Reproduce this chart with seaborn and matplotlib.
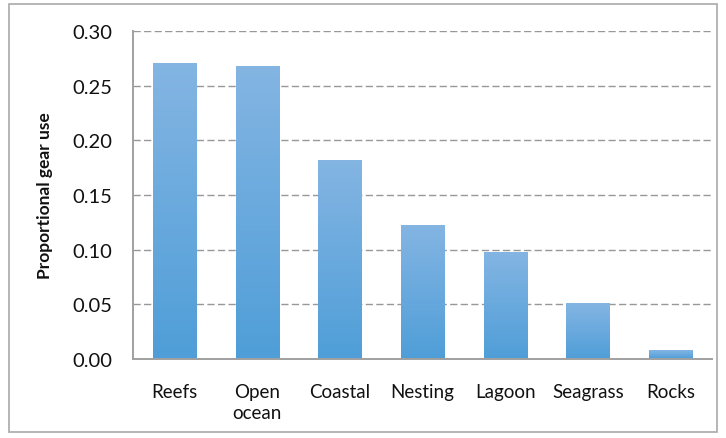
import numpy as np
import pandas as pd
import matplotlib
matplotlib.use("Agg")
import matplotlib.pyplot as plt
import seaborn as sns
from matplotlib.patches import Rectangle
from matplotlib.colors import LinearSegmentedColormap

categories = ["Reefs", "Open\nocean", "Coastal", "Nesting", "Lagoon", "Seagrass", "Rocks"]
values = [0.271, 0.268, 0.182, 0.123, 0.098, 0.051, 0.008]
yticks = [0.00, 0.05, 0.10, 0.15, 0.20, 0.25, 0.30]

sns.set_theme(style="white")
plt.rcParams['font.family'] = ['Lato', 'DejaVu Sans']

df = pd.DataFrame({"cat": categories, "val": values})

W, H = 726, 439
fig = plt.figure(figsize=(W / 100, H / 100), dpi=100)
ax = fig.add_axes([133 / W, 1 - 360 / H, (712 - 133) / W, (360 - 32) / H])

sns.barplot(data=df, x="cat", y="val", color="#6aa8dc", width=0.52, ax=ax,
            saturation=1, edgecolor="none")

# gradient fill for each bar
cmap = LinearSegmentedColormap.from_list("g", ["#4f9ed8", "#84b5e3"])
grad = np.linspace(0, 1, 256).reshape(-1, 1)
for p in ax.patches:
    x0, y0 = p.get_x(), p.get_y()
    w, h = p.get_width(), p.get_height()
    im = ax.imshow(grad, cmap=cmap, origin="lower", aspect="auto",
                   extent=[x0, x0 + w, y0, y0 + h], zorder=p.get_zorder())
    im.set_clip_path(p)
    p.set_facecolor("none")

ax.set_xlim(-0.5, len(categories) - 0.5)
ax.set_ylim(0, 0.30)
ax.set_yticks(yticks)
ax.set_yticklabels([f"{v:.2f}" for v in yticks], fontsize=14.5, color="#111111")
ax.set_xticks(range(len(categories)))
ax.set_xticklabels(categories, fontsize=13.5, color="#111111", linespacing=1.3)
ax.set_xticks(np.arange(-0.5, len(categories), 1.0), minor=True)
ax.tick_params(axis="x", which="major", length=0, pad=17)
ax.tick_params(axis="x", which="minor", length=6, width=1.3, color="#a0a0a0", direction="out")
ax.tick_params(axis="y", which="major", length=7, width=1.3, color="#a0a0a0", direction="out", pad=8)

ax.set_ylabel("Proportional gear use", fontsize=12.5, fontweight="bold", color="#111111", labelpad=14)
ax.set_xlabel("")

ax.yaxis.grid(True, linestyle=(0, (5.2, 2.4)), color="#989898", linewidth=1.0)
ax.set_axisbelow(True)
for s in ["top", "right"]:
    ax.spines[s].set_visible(False)
for s in ["left", "bottom"]:
    ax.spines[s].set_color("#a0a0a0")
    ax.spines[s].set_linewidth(1.4)

# figure border
fig.patches.append(Rectangle((9 / W, 1 - 433 / H), (717 - 9) / W, (433 - 5) / H,
                             transform=fig.transFigure, fill=False,
                             edgecolor="#b0b0b0", linewidth=1.3))

fig.savefig("out.png", dpi=100)
